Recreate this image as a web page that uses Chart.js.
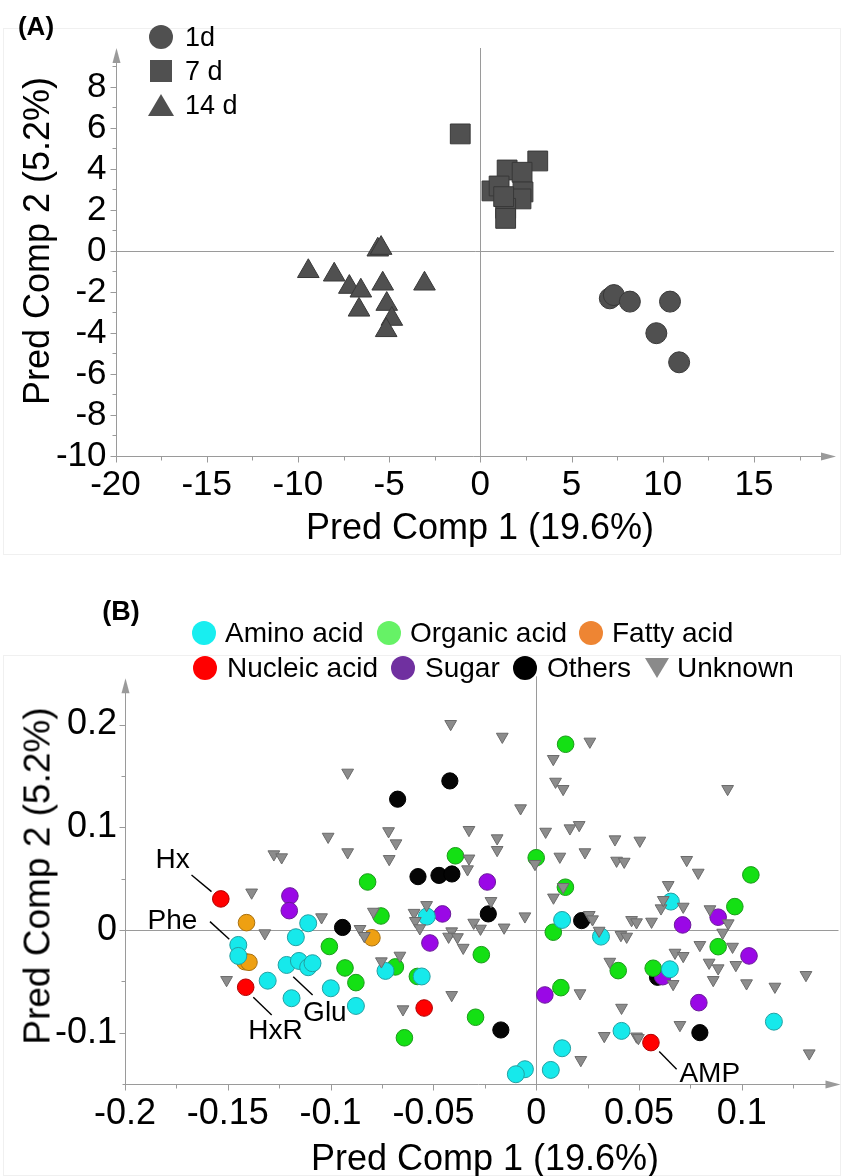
<!DOCTYPE html>
<html>
<head>
<meta charset="utf-8">
<script src="https://cdn.jsdelivr.net/npm/chart.js@4.4.1/dist/chart.umd.min.js"></script>
<style>
  body { margin: 0; background: #fff; }
  #page { position: relative; width: 843px; height: 1176px; overflow: hidden;
          font-family: 'Liberation Sans', Arial, sans-serif; color: #000; }
  canvas { position: absolute; left: 0; }
  .t { position: absolute; white-space: nowrap; line-height: 1; transform: translate(-50%, -50%); }
  .rot { transform: translate(-50%, -50%) rotate(-90deg); }
  .lg { position: absolute; white-space: nowrap; line-height: 1; transform: translateY(-50%); }
  .mk { position: absolute; transform: translate(-50%, -50%); }
  .frame { position: absolute; border: 1px solid #f0f0f0; box-sizing: border-box; }
</style>
</head>
<body>
<div id="page">
  <div class="frame" style="left:3px;top:28px;width:838px;height:527px"></div>
  <div class="frame" style="left:3px;top:655px;width:838px;height:521px"></div>

  <canvas id="chartA" width="843" height="570" style="top:0"></canvas>
  <canvas id="chartB" width="843" height="606" style="top:570px"></canvas>

  <!-- panel letters -->
  <div class="t" style="left:36px;top:26px;font-size:26px;font-weight:bold">(A)</div>
  <div class="t" style="left:121px;top:611px;font-size:27px;font-weight:bold">(B)</div>

  <!-- axis titles -->
  <div class="t rot" style="left:37px;top:241px;font-size:36px">Pred Comp 2 (5.2%)</div>
  <div class="t" style="left:480px;top:527px;font-size:36px">Pred Comp 1 (19.6%)</div>
  <div class="t rot" style="left:37px;top:876px;font-size:37px">Pred Comp 2 (5.2%)</div>
  <div class="t" style="left:485px;top:1158px;font-size:36px">Pred Comp 1 (19.6%)</div>

  <!-- legend, panel A -->
  <div id="legendA"></div>
  <!-- legend, panel B -->
  <div id="legendB"></div>
</div>

<script>
// ---------- Panel A: sample scores by storage day ----------
const dayNames = ['1d', '7 d', '14 d'];

const day1X = [7.10, 7.32, 8.20, 10.40, 9.65, 10.90];
const day1Y = [-2.31, -2.15, -2.47, -2.47, -4.01, -5.43];

const day7X = [-1.10, 3.15, 1.47, 2.29, 0.64, 1.03, 2.34, 2.23, 1.39, 1.39, 1.28];
const day7Y = [5.71, 4.39, 3.95, 3.84, 2.93, 3.17, 2.88, 2.54, 2.08, 1.59, 2.65];

const day14X = [-5.62, -5.44, -9.43, -8.01, -7.18, -6.55, -5.35, -3.06, -6.65, -5.13, -4.85, -5.16];
const day14Y = [0.06, 0.14, -0.99, -1.16, -1.76, -1.94, -1.60, -1.60, -2.87, -2.59, -3.32, -3.87];

const scoreXTicks = [-20, -15, -10, -5, 0, 5, 10, 15];
const scoreXMinor = [-17.5, -12.5, -7.5, -2.5, 2.5, 7.5, 12.5, 17.5];
const scoreYTicks = [-10, -8, -6, -4, -2, 0, 2, 4, 6, 8];
const scoreYMinor = [-9, -7, -5, -3, -1, 1, 3, 5, 7, 9];

// ---------- Panel B: metabolite loadings by class ----------
const classNames = ['Amino acid', 'Organic acid', 'Fatty acid', 'Nucleic acid', 'Sugar', 'Others', 'Unknown'];

const aminoX = [-0.1109, -0.1169, -0.1449, -0.1449, -0.1214, -0.1154, -0.1109, -0.1088, -0.1306, -0.1190,
                -0.0999, -0.0877, -0.0733, -0.0557, -0.0532, 0.0126, 0.0315, 0.0655, 0.0650, 0.0415,
                0.0126, 0.0071, -0.0055, -0.0099, 0.1156];
const aminoY = [0.0065, -0.0071, -0.0146, -0.0253, -0.0341, -0.0302, -0.0363, -0.0324, -0.0494, -0.0665,
                -0.0568, -0.0740, -0.0399, -0.0453, 0.0130, 0.0097, -0.0065, 0.0276, -0.0383, -0.0983,
                -0.1152, -0.1363, -0.1356, -0.1405, -0.0893];
const aminoNames = ['', '', 'Phe', '', 'Glu', '', '', '', '', '', '', '', '', '', '', '', '', '', '', '', '', '', '', '', ''];

const organicX = [-0.0820, -0.0393, 0.0000, 0.0143, 0.0142, 0.1044, 0.0966, 0.0885, -0.1006, -0.0930,
                  -0.0877, -0.0755, -0.0685, -0.0578, -0.0641, -0.0267, -0.0295, 0.0083, 0.0120, 0.0399, 0.0569];
const organicY = [0.0467, 0.0722, 0.0703, 0.1808, 0.0416, 0.0536, 0.0227, -0.0163, -0.0161, -0.0370,
                  -0.0513, 0.0136, -0.0360, -0.0453, -0.1050, -0.0241, -0.0850, -0.0022, -0.0562, -0.0396, -0.0373];

const fattyX = [-0.1409, -0.1417, -0.1397, -0.0799];
const fattyY = [0.0071, -0.0309, -0.0315, -0.0076];

const nucleicX = [-0.1534, -0.1413, -0.0545, 0.0558];
const nucleicY = [0.0302, -0.0558, -0.0760, -0.1097];
const nucleicNames = ['Hx', 'HxR', '', 'AMP'];

const sugarX = [-0.1198, -0.1201, -0.0456, -0.0238, -0.0517, 0.0042, 0.0712, 0.0885, 0.1035, 0.0615, 0.0791];
const sugarY = [0.0331, 0.0188, 0.0156, 0.0467, -0.0127, -0.0633, 0.0049, 0.0124, -0.0253, -0.0455, -0.0708];

const othersX = [-0.0674, -0.0420, -0.0575, -0.0473, -0.0410, -0.0942, -0.0233, 0.0221, -0.0172, 0.0590, 0.0796];
const othersY = [0.1273, 0.1451, 0.0519, 0.0531, 0.0545, 0.0024, 0.0156, 0.0091, -0.0974, -0.0461, -0.1000];

const unknownX = [-0.0416, -0.0165, 0.0261, 0.0083, -0.0917, 0.0094, 0.0131, 0.0931, -0.0076, -0.1012,
                  -0.0718, -0.0682, -0.0327, -0.0190, -0.0190, 0.0046, 0.0164, 0.0209, 0.0383, 0.0504,
                  0.0237, 0.0115, 0.0391, 0.0428, 0.0732, 0.0788, 0.0642, -0.1276, -0.1238, -0.0917,
                  -0.0715, -0.0327, -0.0334, -0.0006, 0.0131, 0.0084, -0.0220, -0.1384, -0.1044, -0.1320,
                  -0.0792, -0.0857, -0.0836, -0.0753, -0.0663, -0.1506, -0.0648, -0.0594, -0.0588, -0.0566,
                  -0.0533, -0.0411, -0.0426, -0.0383, -0.0355, -0.0304, -0.0271, -0.0156, -0.0055, 0.0258,
                  0.0274, 0.0306, 0.0412, 0.0440, 0.0464, 0.0488, 0.0561, 0.0607, 0.0618, 0.0715,
                  0.0845, 0.0934, 0.0907, 0.0796, 0.0955, 0.0675, 0.0715, 0.0841, 0.0885, 0.0971,
                  0.0861, 0.1023, 0.1161, 0.1312, 0.0358, 0.0666, -0.0411, 0.0213, 0.0415, 0.0699,
                  0.0331, 0.0488, 0.0217, 0.1328, 0.0497];
const unknownY = [0.2006, 0.1882, 0.1834, 0.1665, 0.1532, 0.1444, 0.1373, 0.1373, 0.1185, 0.0908,
                  0.0962, 0.0844, 0.0974, 0.0893, 0.0779, 0.0957, 0.0990, 0.1022, 0.0883, 0.0870,
                  0.0757, 0.0714, 0.0675, 0.0665, 0.0682, 0.0558, 0.0438, 0.0737, 0.0708, 0.0757,
                  0.0691, 0.0696, 0.0591, 0.0643, 0.0419, 0.0316, 0.0282, 0.0365, 0.0124, -0.0032,
                  0.0178, 0.0010, -0.0058, -0.0305, -0.0250, -0.0487, -0.0772, 0.0167, 0.0088, 0.0017,
                  0.0243, -0.0013, -0.0065, -0.0070, -0.0173, 0.0071, 0.0013, 0.0024, 0.0133, 0.0146,
                  0.0104, -0.0007, -0.0049, -0.0065, 0.0097, 0.0075, 0.0081, 0.0211, 0.0292, 0.0227,
                  0.0202, 0.0065, -0.0026, -0.0146, -0.0163, -0.0221, -0.0253, -0.0318, -0.0373, -0.0341,
                  -0.0487, -0.0519, -0.0552, -0.0438, -0.0309, -0.0526, -0.0633, -0.0616, -0.0757, -0.0925,
                  -0.1032, -0.1037, -0.1266, -0.1201, -0.1052];

const loadXTicks = [-0.2, -0.15, -0.1, -0.05, 0, 0.05, 0.1];
const loadXMinor = [-0.175, -0.125, -0.075, -0.025, 0.025, 0.075, 0.125];
const loadYTicks = [-0.1, 0, 0.1, 0.2];
const loadYMinor = [-0.05, 0.05, 0.15];

// ---------- helpers ----------
const FONT = "'Liberation Sans', Arial, sans-serif";
const toPoints = (xs, ys, names) => xs.map((x, i) => ({ x, y: ys[i], name: names ? names[i] : '' }));

// Gray JMP-style axes: arrowed axis lines, major/minor outward ticks and zero reference lines.
const arrowAxes = {
  id: 'arrowAxes',
  beforeDatasetsDraw(chart, args, o) {
    const { ctx, chartArea: a, scales: { x, y } } = chart;
    const L = Math.round(a.left) + 0.5;
    const B = Math.round(a.bottom) + 0.5;
    ctx.save();
    ctx.strokeStyle = o.color;
    ctx.fillStyle = o.color;
    ctx.lineWidth = 1;
    // zero reference lines
    const x0 = Math.round(x.getPixelForValue(0)) + 0.5;
    const y0 = Math.round(y.getPixelForValue(0)) + 0.5;
    ctx.beginPath();
    ctx.moveTo(x0, a.top + o.refTop); ctx.lineTo(x0, B);
    ctx.moveTo(L, y0); ctx.lineTo(a.right - 2, y0);
    ctx.stroke();
    // axis lines
    ctx.beginPath();
    ctx.moveTo(L, B); ctx.lineTo(L, a.top + 6);
    ctx.moveTo(L - o.overhang, B); ctx.lineTo(a.right - 6, B);
    ctx.stroke();
    // arrowheads
    ctx.beginPath();
    ctx.moveTo(L, a.top); ctx.lineTo(L - 4, a.top + 15); ctx.lineTo(L + 4, a.top + 15); ctx.closePath();
    ctx.fill();
    ctx.beginPath();
    ctx.moveTo(a.right, B); ctx.lineTo(a.right - 15, B - 4); ctx.lineTo(a.right - 15, B + 4); ctx.closePath();
    ctx.fill();
    // ticks
    ctx.beginPath();
    const tickX = (vals, len) => vals.forEach(v => {
      const p = Math.round(x.getPixelForValue(v)) + 0.5;
      if (p < a.left - 1 || p > a.right - 10) return;
      ctx.moveTo(p, B); ctx.lineTo(p, B + len);
    });
    const tickY = (vals, len) => vals.forEach(v => {
      const p = Math.round(y.getPixelForValue(v)) + 0.5;
      if (p > a.bottom + 1 || p < a.top + 10) return;
      ctx.moveTo(L, p); ctx.lineTo(L - len, p);
    });
    tickX(o.xMajor, 6); tickX(o.xMinor, 4);
    tickY(o.yMajor, 6); tickY(o.yMinor, 4);
    ctx.stroke();
    ctx.restore();
  }
};

// Named points get a short black leader line and a text label.
const pointLabels = {
  id: 'pointLabels',
  afterDatasetsDraw(chart, args, o) {
    if (!o.specs) return;
    const { ctx } = chart;
    ctx.save();
    ctx.strokeStyle = '#000';
    ctx.fillStyle = '#000';
    ctx.lineWidth = 1.4;
    ctx.font = `${o.size}px ${FONT}`;
    ctx.textBaseline = 'middle';
    chart.data.datasets.forEach((ds, di) => {
      const meta = chart.getDatasetMeta(di);
      ds.data.forEach((d, i) => {
        const s = d.name && o.specs[d.name];
        if (!s) return;
        const el = meta.data[i];
        ctx.beginPath();
        ctx.moveTo(el.x + s.line[0], el.y + s.line[1]);
        ctx.lineTo(el.x + s.line[2], el.y + s.line[3]);
        ctx.stroke();
        ctx.textAlign = s.align;
        ctx.fillText(d.name, el.x + s.text[0], el.y + s.text[1]);
      });
    });
    ctx.restore();
  }
};

// Linear axis with fixed tick list and a fixed box size, so the plot area lands where intended.
function linearAxis(min, max, ticks, size, pad, fitSize, horizontal) {
  return {
    type: 'linear',
    min, max,
    grid: { display: false, drawTicks: false },
    border: { display: false },
    afterBuildTicks: s => { s.ticks = ticks.map(v => ({ value: v })); },
    afterFit: s => {
      if (horizontal) { s.height = fitSize; s.paddingLeft = 0; s.paddingRight = 0; }
      else { s.width = fitSize; s.paddingTop = 0; s.paddingBottom = 0; }
    },
    ticks: {
      autoSkip: false, maxRotation: 0, padding: pad, color: '#000',
      font: { family: FONT, size },
      callback: v => String(v)
    }
  };
}

Chart.defaults.animation = false;
Chart.defaults.events = [];

// ---------- Panel A chart ----------
const grayFill = '#505050', grayEdge = '#383838';
new Chart(document.getElementById('chartA'), {
  type: 'scatter',
  data: {
    datasets: [
      { label: dayNames[0], data: toPoints(day1X, day1Y), pointStyle: 'circle', pointRadius: 10.5,
        backgroundColor: grayFill, borderColor: grayEdge, borderWidth: 1 },
      { label: dayNames[1], data: toPoints(day7X, day7Y), pointStyle: 'rect', pointRadius: 14,
        backgroundColor: grayFill, borderColor: grayEdge, borderWidth: 1 },
      { label: dayNames[2], data: toPoints(day14X, day14Y), pointStyle: 'triangle', pointRadius: 12.5,
        backgroundColor: grayFill, borderColor: grayEdge, borderWidth: 1 }
    ]
  },
  options: {
    responsive: false,
    layout: { autoPadding: false, padding: { left: 0, right: 7, top: 48, bottom: 0 } },
    plugins: {
      legend: { display: false }, tooltip: { enabled: false },
      arrowAxes: { color: '#9a9a9a', refTop: 0, overhang: 0,
                   xMajor: scoreXTicks, xMinor: scoreXMinor, yMajor: scoreYTicks, yMinor: scoreYMinor },
      pointLabels: {}
    },
    scales: {
      x: linearAxis(-20, 19.5, scoreXTicks, 35, 8, 114, true),
      y: linearAxis(-10, 9.9, scoreYTicks, 35, 9, 115.5, false)
    }
  },
  plugins: [arrowAxes, pointLabels]
});

// ---------- Panel B chart ----------
const classStyle = [
  { fill: '#16e9eb', edge: '#22a0a2', r: 8.5 },
  { fill: '#14e014', edge: '#1a9a1a', r: 8.3 },
  { fill: '#eea012', edge: '#a8700f', r: 8.3 },
  { fill: '#ff0000', edge: '#b00000', r: 8.3 },
  { fill: '#9a08e6', edge: '#6a1a99', r: 8.3 },
  { fill: '#050505', edge: '#000000', r: 8.1 }
];
const classData = [
  toPoints(aminoX, aminoY, aminoNames),
  toPoints(organicX, organicY),
  toPoints(fattyX, fattyY),
  toPoints(nucleicX, nucleicY, nucleicNames),
  toPoints(sugarX, sugarY),
  toPoints(othersX, othersY)
];
const bSets = classData.map((d, i) => ({
  label: classNames[i], data: d, pointStyle: 'circle', pointRadius: classStyle[i].r,
  backgroundColor: classStyle[i].fill, borderColor: classStyle[i].edge, borderWidth: 1
}));
bSets.push({
  label: classNames[6], data: toPoints(unknownX, unknownY), pointStyle: 'triangle', rotation: 180,
  pointRadius: 6.8, backgroundColor: '#8c8c8c', borderColor: '#6b6b6b', borderWidth: 1, order: -1
});

new Chart(document.getElementById('chartB'), {
  type: 'scatter',
  data: { datasets: bSets },
  options: {
    responsive: false,
    layout: { autoPadding: false, padding: { left: 0, right: 2.5, top: 108.3, bottom: 0 } },
    plugins: {
      legend: { display: false }, tooltip: { enabled: false },
      arrowAxes: { color: '#9a9a9a', refTop: -2, overhang: 3,
                   xMajor: loadXTicks, xMinor: loadXMinor, yMajor: loadYTicks, yMinor: loadYMinor },
      pointLabels: {
        size: 28,
        specs: {
          Hx:  { line: [-9.3, -7.3, -29.3, -24], text: [-31, -39], align: 'right' },
          Phe: { line: [-9, -5.7, -28.3, -23.3], text: [-41, -24], align: 'right' },
          HxR: { line: [7.6, 10, 26, 27.7], text: [2.5, 43.7], align: 'left' },
          Glu: { line: [6.6, 11.7, 26, 30], text: [16.5, 48], align: 'left' },
          AMP: { line: [8.3, 9, 25.7, 26.6], text: [28.5, 31.3], align: 'left' }
        }
      }
    },
    scales: {
      x: linearAxis(-0.2, 0.148, loadXTicks, 36, 8, 92, true),
      y: linearAxis(-0.15, 0.245, loadYTicks, 36, 8, 125, false)
    }
  },
  plugins: [arrowAxes, pointLabels]
});

// ---------- HTML legends ----------
function marker(shape, color, size) {
  const el = document.createElement('div');
  el.className = 'mk';
  el.style.background = color;
  if (shape === 'circle') { el.style.width = el.style.height = size + 'px'; el.style.borderRadius = '50%'; }
  if (shape === 'square') { el.style.width = el.style.height = size + 'px'; }
  if (shape === 'tri' || shape === 'itri') {
    el.style.width = size + 'px'; el.style.height = Math.round(size * 0.85) + 'px';
    el.style.clipPath = shape === 'tri' ? 'polygon(50% 0, 100% 100%, 0 100%)' : 'polygon(0 0, 100% 0, 50% 100%)';
  }
  return el;
}
function addItem(parent, shape, color, size, mx, my, tx, text, fs) {
  const m = marker(shape, color, size);
  m.style.left = mx + 'px'; m.style.top = my + 'px';
  parent.appendChild(m);
  const t = document.createElement('div');
  t.className = 'lg';
  t.style.left = tx + 'px'; t.style.top = my + 'px'; t.style.fontSize = fs + 'px';
  t.textContent = text;
  parent.appendChild(t);
}
const legA = document.getElementById('legendA');
addItem(legA, 'circle', grayFill, 24, 161, 37, 185, dayNames[0], 27);
addItem(legA, 'square', grayFill, 22, 161, 71, 185, dayNames[1], 27);
addItem(legA, 'tri', grayFill, 26, 161, 105, 185, dayNames[2], 27);

const legB = document.getElementById('legendB');
const legendColors = ['#18eef0', '#66f266', '#ee8533', '#ff0000', '#7030a0', '#000000', '#8a8a8a'];
const legendPos = [
  [204, 633, 225], [389, 633, 410], [591, 633, 612],
  [204.5, 668, 227], [402.5, 668, 425], [525, 668, 547], [657, 668, 677]
];
classNames.forEach((n, i) => {
  const [mx, my, tx] = legendPos[i];
  addItem(legB, i === 6 ? 'itri' : 'circle', legendColors[i], 24, mx, my, tx, n, 28);
});
</script>
</body>
</html>
